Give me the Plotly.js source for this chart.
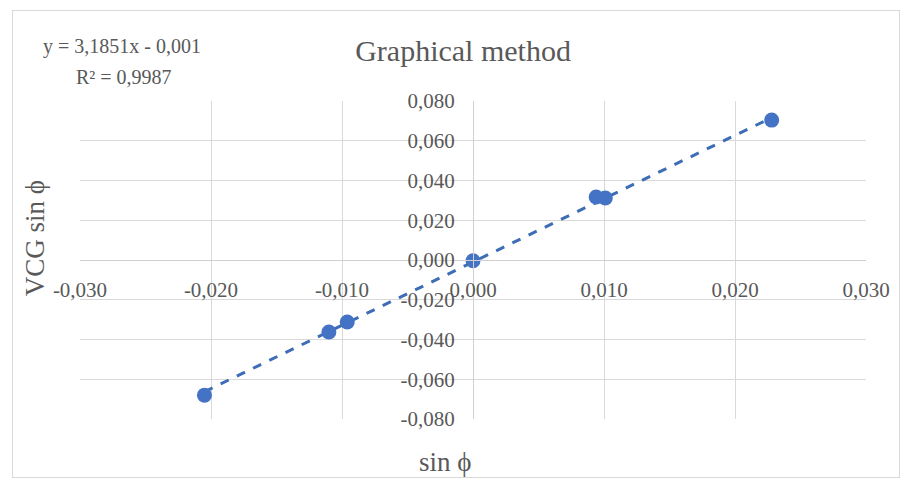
<!DOCTYPE html>
<html>
<head>
<meta charset="utf-8">
<script src="https://cdn.plot.ly/plotly-3.0.1.min.js"></script>
<style>
  html, body { margin: 0; padding: 0; background: #ffffff; }
  #wrap { position: relative; width: 908px; height: 484px; }
  #chart { width: 908px; height: 484px; }
  #frame { position: absolute; left: 12px; top: 10px; width: 886px; height: 466px;
           border: 1px solid #d9d9d9; pointer-events: none; }
</style>
</head>
<body>
<div id="wrap"><div id="chart"></div><div id="frame"></div></div>
<script>
// Data
const sinPhi   = [-0.0205, -0.0110, -0.0096, 0.0000, 0.0094, 0.0101, 0.0228];
const vcgSin   = [-0.0680, -0.0362, -0.0312, -0.0004, 0.0317, 0.0312, 0.0704];
// Linear trendline as printed on the chart
const slope = 3.1851;
const intercept = -0.001;
const eqText = "y = 3,1851x - 0,001";
const r2Text = "R² = 0,9987";

const xTickVals = [-0.03, -0.02, -0.01, 0, 0.01, 0.02, 0.03];
const xTickText = ["-0,030", "-0,020", "-0,010", "0,000", "0,010", "0,020", "0,030"];
const yTickVals = [-0.08, -0.06, -0.04, -0.02, 0, 0.02, 0.04, 0.06, 0.08];
const yTickText = ["-0,080", "-0,060", "-0,040", "-0,020", "0,000", "0,020", "0,040", "0,060", "0,080"];

const chartTitle = "Graphical method";
const xTitle = "sin ϕ";
const yTitle = "VCG sin ϕ";

const xMin = Math.min(...sinPhi), xMax = Math.max(...sinPhi);
const trendX = [xMin, xMax];
const trendY = trendX.map(v => slope * v + intercept);

const FONT = "Liberation Serif, Times New Roman, serif";
const GREY = "#595959";

const traces = [
  {
    x: trendX, y: trendY, type: "scatter", mode: "lines",
    line: { color: "#3d6db5", width: 3, dash: "dash" },
    hoverinfo: "skip", showlegend: false
  },
  {
    x: sinPhi, y: vcgSin, type: "scatter", mode: "markers",
    marker: { color: "#4472c4", size: 15 },
    showlegend: false
  }
];

const layout = {
  width: 908, height: 484,
  paper_bgcolor: "#ffffff", plot_bgcolor: "#ffffff",
  margin: { l: 80, r: 42, t: 101, b: 65 },
  showlegend: false,
  font: { family: FONT, color: GREY },
  title: { text: chartTitle, font: { family: FONT, size: 30, color: GREY },
           x: 0.51, xanchor: "center", y: 0.895, yanchor: "middle" },
  xaxis: {
    range: [-0.03, 0.03], anchor: "free", position: 0.5,
    tickvals: xTickVals, ticktext: xTickText,
    tickfont: { family: FONT, size: 21, color: GREY },
    ticklabelstandoff: 11,
    showgrid: true, gridcolor: "#d9d9d9", gridwidth: 1,
    zeroline: false, showline: true, linecolor: "#d0d0d0", linewidth: 1,
    ticks: "", fixedrange: true
  },
  yaxis: {
    range: [-0.08, 0.08], anchor: "free", position: 0.5,
    tickvals: yTickVals, ticktext: yTickText,
    tickfont: { family: FONT, size: 21, color: GREY },
    ticklabelstandoff: 14,
    showgrid: true, gridcolor: "#d9d9d9", gridwidth: 1,
    zeroline: false, showline: true, linecolor: "#d0d0d0", linewidth: 1,
    ticks: "", fixedrange: true
  },
  annotations: [
    { text: eqText, xref: "paper", yref: "paper", x: -0.05, y: 1.17,
      xanchor: "left", yanchor: "middle", showarrow: false,
      font: { family: FONT, size: 20, color: GREY } },
    { text: r2Text, xref: "paper", yref: "paper", x: -0.008, y: 1.075,
      xanchor: "left", yanchor: "middle", showarrow: false,
      font: { family: FONT, size: 20, color: GREY } },
    { text: xTitle, xref: "paper", yref: "paper", x: 0.465, y: -0.135,
      xanchor: "center", yanchor: "middle", showarrow: false,
      font: { family: FONT, size: 27, color: GREY } },
    { text: yTitle, xref: "paper", yref: "paper", x: -0.058, y: 0.57,
      xanchor: "center", yanchor: "middle", showarrow: false, textangle: -90,
      font: { family: FONT, size: 27, color: GREY } }
  ]
};

Plotly.newPlot("chart", traces, layout, { displayModeBar: false, staticPlot: true });
</script>
</body>
</html>
